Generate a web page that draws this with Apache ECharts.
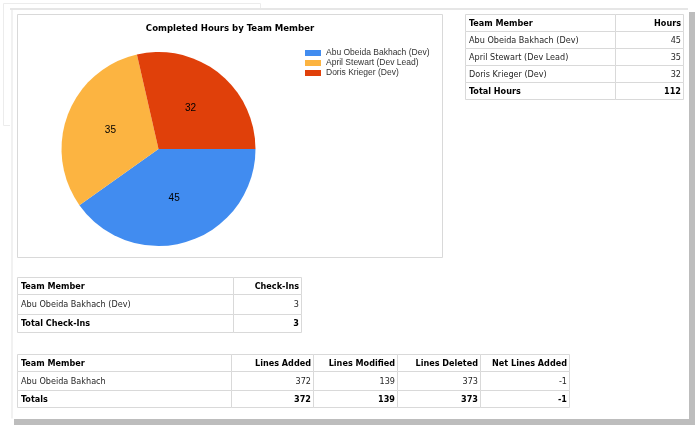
<!DOCTYPE html>
<html><head><meta charset="utf-8">
<script src="https://cdn.jsdelivr.net/npm/echarts@6/dist/echarts.min.js"></script>
<style>html,body{margin:0;padding:0;background:#fff}#c{width:697px;height:429px}</style>
</head><body><div id="c"></div>
<script>
// ---- data ----
const chartTitle = 'Completed Hours by Team Member';
const members = ['Abu Obeida Bakhach (Dev)', 'April Stewart (Dev Lead)', 'Doris Krieger (Dev)'];
const hours = [45, 35, 32];
const totalHours = 112;
const checkInMembers = ['Abu Obeida Bakhach (Dev)'];
const checkIns = [3];
const totalCheckIns = 3;
const codeMembers = ['Abu Obeida Bakhach'];
const linesAdded = [372];
const linesModified = [139];
const linesDeleted = [373];
const netLinesAdded = [-1];
const codeTotals = [372, 139, 373, -1];
const colors = ['#418CF0', '#FCB441', '#E0400A'];

// ---- rendering ----
const FONT = '"DejaVu Sans Condensed", "DejaVu Sans", sans-serif';
const G = [];
function rect(x, y, w, h, fill, stroke, z) {
  G.push({type: 'rect', z: z || 0, silent: true, shape: {x, y, width: w, height: h},
    style: {fill: fill || 'none', stroke: stroke || null, lineWidth: 1}});
}
function text(x, y, s, bold, align, color) {
  G.push({type: 'text', z: 5, silent: true, x, y,
    style: {text: String(s), font: (bold ? 'bold ' : '') + '9px ' + FONT,
      fill: color || (bold ? '#000' : '#262626'),
      textAlign: align, align: align, textVerticalAlign: 'middle', verticalAlign: 'middle'}});
}
function table(cols, rows, cells, boldRows, aligns) {
  for (let r = 0; r < rows.length - 1; r++) {
    for (let c = 0; c < cols.length - 1; c++) {
      rect(cols[c] + 0.5, rows[r] + 0.5, cols[c + 1] - cols[c], rows[r + 1] - rows[r], '#fff', '#d9d9d9', 3);
      const a = aligns[c];
      const tx = a === 'left' ? cols[c] + 4 : cols[c + 1] - 2;
      text(tx, (rows[r] + rows[r + 1]) / 2 + 1, cells[r][c], boldRows.indexOf(r) >= 0, a);
    }
  }
}

// page & frames
rect(3.5, 3.5, 257, 122, '#fff', '#ececec', -5);
rect(14, 12, 681, 413, '#bdbdbd', null, -4);
rect(10, 8, 679, 411, '#fff', null, -3);
rect(10, 8, 678, 2, '#e6e6e6', null, -2);
rect(11.5, 9.5, 1, 409, '#e4e4e4', null, -2);
rect(17.5, 14.5, 425, 243, '#fff', '#d9d9d9', -1);

// hours table
const hoursCells = [['Team Member', 'Hours']];
members.forEach((m, i) => hoursCells.push([m, hours[i]]));
hoursCells.push(['Total Hours', totalHours]);
table([465, 615, 683], [14, 31, 48, 65, 82, 99], hoursCells, [0, hoursCells.length - 1], ['left', 'right']);

// check-ins table
const ciCells = [['Team Member', 'Check-Ins']];
checkInMembers.forEach((m, i) => ciCells.push([m, checkIns[i]]));
ciCells.push(['Total Check-Ins', totalCheckIns]);
table([17, 233, 301], [277, 294, 314, 332], ciCells, [0, ciCells.length - 1], ['left', 'right']);

// code lines table
const codeCells = [['Team Member', 'Lines Added', 'Lines Modified', 'Lines Deleted', 'Net Lines Added']];
codeMembers.forEach((m, i) => codeCells.push([m, linesAdded[i], linesModified[i], linesDeleted[i], netLinesAdded[i]]));
codeCells.push(['Totals'].concat(codeTotals));
table([17, 231, 313, 397, 480, 569], [354, 371, 390, 407], codeCells, [0, codeCells.length - 1],
  ['left', 'right', 'right', 'right', 'right']);

const chart = echarts.init(document.getElementById('c'), null, {renderer: 'canvas'});
chart.setOption({
  animation: false,
  color: colors,
  title: {
    text: chartTitle, left: 230, top: 24, textAlign: 'center', padding: 0,
    textStyle: {fontFamily: FONT, fontSize: 9.5, fontWeight: 'bold', color: '#000'}
  },
  legend: {
    orient: 'vertical', left: 305, top: 48, padding: 0,
    icon: 'rect', itemWidth: 16, itemHeight: 6, itemGap: 0,
    textStyle: {fontFamily: '"Liberation Sans", Arial, sans-serif', fontSize: 8.5, color: '#333', lineHeight: 10},
    data: members, selectedMode: false
  },
  graphic: {elements: G},
  series: [{
    type: 'pie', center: [158.5, 149], radius: 97, startAngle: 0, clockwise: true,
    avoidLabelOverlap: false, silent: true,
    label: {show: true, position: 'inside', formatter: '{c}', color: '#000',
      fontFamily: '"Liberation Sans", Arial, sans-serif', fontSize: 10},
    labelLine: {show: false},
    itemStyle: {borderWidth: 0},
    emphasis: {disabled: true},
    data: members.map((m, i) => ({name: m, value: hours[i]}))
  }]
});
</script></body></html>
